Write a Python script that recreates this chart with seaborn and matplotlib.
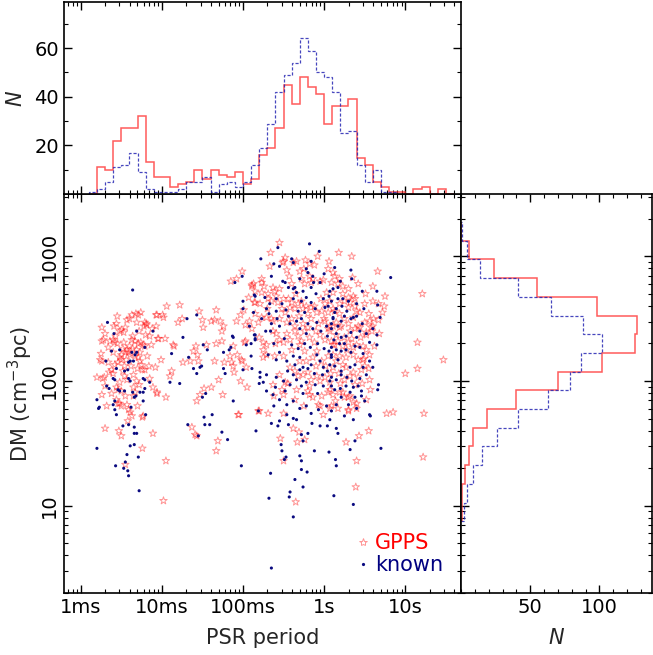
import numpy as np
import pandas as pd
import matplotlib
matplotlib.use("Agg")
import matplotlib.pyplot as plt
import seaborn as sns
from matplotlib.lines import Line2D
from matplotlib.ticker import FixedLocator, FixedFormatter, LogLocator, NullFormatter, MultipleLocator

# ---------------- data ----------------
# period histogram: bin edges in log10(P / s), counts per bin
period_edges_log = np.round(np.arange(-2.9, 1.65, 0.1), 2)
gpps_period_counts = [0, 11, 10, 22, 27, 27, 32, 13, 7, 7, 3, 4, 5, 10, 6, 10, 8, 7, 9, 4, 6,
                      16, 19, 27, 45, 37, 48, 44, 41, 29, 36, 36, 39, 15, 12, 5, 3, 1, 1, 0,
                      2, 3, 0, 2, 0]
known_period_counts = [1, 2, 5, 11, 12, 17, 9, 2, 1, 1, 1, 2, 5, 5, 7, 1, 4, 5, 3, 5, 12,
                       19, 29, 42, 49, 54, 64, 59, 50, 48, 42, 25, 26, 12, 5, 10, 1, 1, 0, 0,
                       0, 0, 0, 0, 0]

# DM histogram: bin edges in log10(DM), counts per bin (ascending DM)
dm_edges_log = np.round(np.arange(0.875, 3.30, 0.15), 3)
gpps_dm_counts = [1, 1, 3, 6, 9, 19, 40, 70, 102, 126, 127, 98, 55, 24, 6, 0]
known_dm_counts = [2, 4, 9, 15, 26, 41, 63, 79, 87, 102, 88, 65, 41, 14, 4, 1]

# scatter points: (log10 P/s, log10 DM)
gpps_points = [
    (-1.01, 2.88), (-1.15, 2.80), (-0.89, 2.77), (-0.86, 2.63), (-0.99, 2.57), (-1.03, 2.53),
    (-1.94, 2.60), (-1.78, 2.61), (-1.54, 2.56), (-1.33, 2.57), (-2.07, 2.53), (-1.99, 2.53),
    (-1.80, 2.47), (-1.75, 2.50), (-1.50, 2.49), (-1.39, 2.48), (-1.35, 2.49), (-1.28, 2.48),
    (-1.24, 2.44), (-1.49, 2.43), (-1.26, 2.40), (-2.12, 2.42), (-2.19, 2.46), (-2.22, 2.44),
    (-1.96, 2.34), (-2.04, 2.34), (-1.85, 2.28), (-1.58, 2.28), (-1.45, 2.29), (-1.33, 2.30),
    (-1.26, 2.32), (-1.61, 2.24), (-1.56, 2.21), (-1.65, 2.16), (-1.74, 2.15), (-1.55, 2.16),
    (-1.35, 2.16), (-1.23, 2.15), (-1.16, 2.20), (-1.07, 2.21), (-1.01, 2.16), (-1.12, 2.12),
    (-1.11, 2.07), (-2.01, 2.17), (-1.88, 2.08), (-1.90, 2.04), (-1.30, 2.01), (-1.48, 1.94),
    (-1.03, 2.00),
    (-2.06, 2.53), (-1.98, 2.51), (-2.26, 2.55), (-2.32, 2.54), (-2.37, 2.53), (-2.29, 2.53),
    (-2.43, 2.49), (-2.40, 2.50), (-2.21, 2.47), (-2.19, 2.45), (-2.31, 2.47), (-2.56, 2.46),
    (-2.59, 2.44), (-2.45, 2.43), (-2.50, 2.41), (-2.52, 2.40), (-2.47, 2.39), (-2.74, 2.43),
    (-2.07, 2.44), (-2.20, 2.37), (-2.15, 2.36), (-2.05, 2.34), (-2.37, 2.33), (-2.33, 2.32),
    (-2.29, 2.30), (-2.26, 2.31), (-2.23, 2.29), (-2.21, 2.28), (-2.72, 2.33), (-2.74, 2.32),
    (-2.64, 2.32), (-2.60, 2.33), (-2.58, 2.31), (-2.57, 2.36), (-2.13, 2.29), (-2.48, 2.26),
    (-2.43, 2.25), (-2.45, 2.23), (-2.50, 2.21), (-2.41, 2.23), (-2.39, 2.21), (-2.75, 2.22),
    (-2.76, 2.17), (-2.74, 2.16), (-2.54, 2.15), (-2.58, 2.13), (-2.52, 2.19), (-2.50, 2.17),
    (-2.33, 2.20), (-2.29, 2.19), (-2.27, 2.16), (-2.25, 2.13), (-2.24, 2.09), (-2.21, 2.09),
    (-1.86, 2.29), (-2.08, 2.11), (-2.62, 2.09), (-2.65, 2.07), (-2.71, 2.03), (-2.80, 2.03),
    (-2.73, 2.02), (-2.46, 2.04), (-2.43, 2.01), (-2.52, 1.99), (-2.15, 2.02), (-2.11, 1.95),
    (-2.56, 1.95), (-2.54, 1.93), (-2.50, 1.92), (-2.70, 1.96), (-2.35, 1.95), (-2.33, 1.91),
    (-2.35, 1.88), (-2.06, 1.91), (-1.95, 1.87), (-2.74, 1.89), (-2.68, 1.80), (-2.56, 1.85),
    (-2.54, 1.82), (-2.52, 1.82), (-2.50, 1.80), (-2.43, 1.81), (-2.41, 1.77), (-2.39, 1.75),
    (-2.37, 1.72), (-2.23, 1.72), (-2.40, 2.28), (-2.36, 2.26), (-2.31, 2.25), (-2.27, 2.23),
    (-2.44, 2.17), (-2.38, 2.12), (-2.30, 2.10), (-2.48, 2.08), (-2.60, 2.23), (-2.66, 2.27),
    (-2.55, 2.30), (-2.47, 2.31), (-2.36, 2.36), (-2.28, 2.40), (-2.46, 2.12), (-2.35, 2.05),
    (-2.31, 2.00), (-2.60, 2.06), (-2.66, 2.15), (-2.62, 1.90), (-2.45, 1.88), (-2.28, 1.97),
    (-2.18, 2.20), (-2.16, 2.12), (-2.42, 1.68), (-2.30, 1.80), (-2.70, 2.38), (-2.55, 2.52),
    (-2.70, 1.62), (-2.53, 1.60), (-2.50, 1.56), (-2.24, 1.71), (-2.11, 1.58), (-2.24, 1.46),
    (-2.45, 1.33), (-1.95, 1.36), (-1.98, 1.04), (-2.06, 1.90), (-1.57, 1.84), (-1.53, 1.89),
    (-1.39, 1.95), (-1.25, 1.89), (-1.63, 1.63), (-1.59, 1.57), (-1.57, 1.56), (-1.31, 1.52),
    (-1.33, 1.44), (-1.05, 1.73), (-0.95, 1.95), (-0.81, 1.76),
    (-0.55, 3.11), (-0.66, 3.03), (-0.48, 2.99), (-0.50, 2.96), (-0.51, 2.95), (-0.38, 2.95),
    (-0.34, 2.96), (-0.23, 2.97), (-0.18, 2.94), (-0.12, 2.93), (0.06, 2.96), (-0.46, 2.89),
    (-0.43, 2.84), (-0.30, 2.88), (-0.28, 2.82), (-0.18, 2.84), (-0.14, 2.82), (-0.24, 2.78),
    (-0.16, 2.79), (-0.05, 2.80), (-0.01, 2.81), (0.09, 2.79), (0.11, 2.87), (-0.89, 2.76),
    (-0.87, 2.78), (-0.77, 2.79), (-0.74, 2.76), (-0.77, 2.71), (-0.69, 2.70), (-0.63, 2.75),
    (-0.61, 2.72), (-0.85, 2.63), (-0.79, 2.62), (-0.69, 2.66), (-0.65, 2.64), (-0.59, 2.68),
    (-0.57, 2.63), (-0.50, 2.66), (-0.52, 2.58), (-0.44, 2.66), (-0.40, 2.63), (-0.42, 2.59),
    (-0.36, 2.58), (-0.32, 2.62), (-0.28, 2.64), (-0.26, 2.58), (-0.22, 2.60), (-0.16, 2.59),
    (-0.09, 2.55), (-0.03, 2.56), (0.01, 2.62), (0.07, 2.64), (0.05, 2.55), (0.11, 2.58),
    (-0.85, 2.54), (-0.77, 2.51), (-0.71, 2.51), (-0.81, 2.47), (-0.63, 2.48), (-0.55, 2.50),
    (-0.46, 2.47), (-0.36, 2.44), (-0.26, 2.46), (-0.16, 2.50), (-0.07, 2.46), (0.01, 2.48),
    (0.07, 2.44), (-0.89, 2.42),
    (0.18, 3.03), (0.34, 3.00), (0.66, 2.88), (0.13, 2.84), (0.19, 2.82), (0.23, 2.76),
    (0.17, 2.78), (0.35, 2.83), (0.60, 2.76), (0.51, 2.70), (0.75, 2.68), (1.21, 2.70),
    (0.60, 2.64), (0.67, 2.62), (0.74, 2.60), (0.11, 2.71), (0.23, 2.70), (0.30, 2.67),
    (0.36, 2.68), (0.38, 2.66), (0.25, 2.64), (0.32, 2.63), (0.19, 2.62), (0.38, 2.60),
    (0.30, 2.59), (0.40, 2.56), (0.44, 2.55), (0.13, 2.56), (0.19, 2.54), (0.25, 2.50),
    (0.15, 2.47), (0.21, 2.44), (0.30, 2.46), (0.36, 2.51), (0.50, 2.47), (0.56, 2.48),
    (0.60, 2.44), (0.42, 2.44),
    (-0.98, 2.31), (-0.80, 2.35), (-0.75, 2.31), (-0.71, 2.29), (-0.75, 2.25), (-0.75, 2.19),
    (-0.71, 2.21), (-1.02, 2.17), (-0.96, 2.11), (-0.61, 2.20), (-0.63, 2.40), (-0.59, 2.38),
    (-0.55, 2.33), (-0.50, 2.31), (-0.46, 2.38), (-0.42, 2.33), (-0.36, 2.40), (-0.32, 2.36),
    (-0.28, 2.32), (-0.24, 2.40), (-0.18, 2.35), (-0.12, 2.31), (-0.05, 2.37), (0.01, 2.33),
    (0.07, 2.40), (0.11, 2.29), (-0.42, 2.11), (-0.36, 2.08), (-0.32, 2.04), (-0.26, 2.05),
    (-0.20, 2.07), (-0.16, 2.01), (-0.09, 2.04), (-0.05, 2.00), (0.01, 2.03), (0.07, 1.99),
    (-0.22, 2.16), (-0.14, 2.19), (-0.03, 2.16), (0.05, 2.20), (-0.24, 2.24), (-0.09, 2.24),
    (-0.52, 1.93), (-0.50, 1.89), (-0.63, 1.97), (-0.20, 1.92), (-0.14, 1.87), (-0.03, 1.88),
    (0.05, 1.91), (-0.80, 1.76), (-0.69, 1.74), (-0.07, 1.81), (-0.01, 1.73), (0.09, 1.80),
    (-0.50, 1.74),
    (0.11, 2.44), (0.19, 2.43), (0.32, 2.40), (0.38, 2.42), (0.44, 2.43), (0.52, 2.39),
    (0.58, 2.43), (0.09, 2.32), (0.13, 2.29), (0.17, 2.32), (0.23, 2.28), (0.30, 2.31),
    (0.36, 2.27), (0.40, 2.29), (0.48, 2.28), (0.52, 2.25), (1.15, 2.31), (1.15, 2.10),
    (1.00, 2.06), (0.56, 2.21), (0.11, 2.21), (0.19, 2.20), (0.27, 2.19), (0.36, 2.21),
    (0.42, 2.17), (0.48, 2.17), (0.23, 2.13), (0.15, 2.16), (0.11, 2.11), (0.27, 2.11),
    (0.42, 2.03), (0.32, 2.04), (0.56, 2.01), (0.57, 1.93), (0.38, 1.97), (0.23, 1.91),
    (0.11, 1.89), (0.30, 1.87), (0.36, 1.83), (0.25, 1.87), (0.17, 1.78), (0.30, 1.77),
    (0.40, 1.78), (0.07, 1.78), (0.77, 1.74), (0.85, 1.75), (1.23, 1.74),
    (-1.08, 2.82), (1.47, 2.17), (-1.06, 1.73), (-0.54, 1.54), (-0.50, 1.36), (-0.38, 1.62),
    (-0.31, 1.59), (-0.24, 1.53), (-0.33, 1.51), (-0.35, 1.03), (0.40, 1.36), (0.27, 1.51),
    (0.43, 1.56), (0.55, 1.60), (0.39, 1.15), (1.22, 1.39), (-0.48, 1.99), (-0.34, 1.93),
    (-0.18, 1.96), (0.07, 1.93), (0.19, 1.91), (0.32, 1.88), (0.40, 1.82), (0.52, 1.85),
    (0.30, 1.76), (-0.05, 1.80), (-0.18, 1.89),
    (0.55, 2.54), (0.61, 2.50), (0.67, 2.49), (0.59, 2.40), (0.52, 2.37), (0.49, 2.18),
    (0.55, 2.10), (0.46, 2.09), (0.36, 2.07), (-0.67, 2.92), (-0.77, 2.82), (-0.85, 2.72),
    (-0.93, 2.67), (-0.70, 2.58), (-0.92, 2.48), (-0.97, 2.45), (-1.08, 2.48), (-0.97, 2.32),
    (-1.12, 2.28), (-1.14, 2.15),
    (-0.48, 2.55), (-0.40, 2.50), (-0.31, 2.52), (-0.20, 2.54), (-0.12, 2.60), (-0.04, 2.66),
    (0.03, 2.71), (-0.35, 2.70), (-0.55, 2.74), (-0.25, 2.90), (-0.40, 2.78), (0.00, 2.50),
    (0.05, 2.42), (-0.10, 2.40), (-0.20, 2.43), (-0.30, 2.29), (-0.40, 2.25), (-0.50, 2.20),
    (-0.60, 2.30), (-0.65, 2.50), (0.15, 2.37), (0.25, 2.35), (0.34, 2.34), (0.45, 2.35),
    (0.28, 2.25), (0.02, 2.12), (0.08, 2.06), (0.18, 2.06), (0.25, 2.01), (-0.10, 2.12),
    (-0.30, 2.16), (-0.55, 2.05), (-0.45, 1.98), (-0.62, 1.88), (-0.36, 1.85), (-0.25, 1.80),
    (0.14, 1.84), (0.20, 1.98), (0.47, 1.98), (0.50, 2.12), (0.62, 2.28), (0.68, 2.38),
    (0.72, 2.55), (0.50, 2.62), (0.30, 2.74), (0.42, 2.78), (0.05, 2.90), (-0.08, 3.00),
]

known_points = [
    (-2.36, 2.73), (-1.01, 2.84), (-1.10, 2.79), (-1.00, 2.64), (-0.87, 2.55), (-0.86, 2.69),
    (-1.57, 2.53), (-1.69, 2.50), (-1.74, 2.35), (-1.49, 2.29), (-1.12, 2.35), (-1.15, 2.27),
    (-1.17, 2.25), (-1.24, 2.23), (-0.96, 2.29), (-0.90, 2.30), (-0.86, 2.37), (-0.85, 2.34),
    (-1.88, 2.22), (-1.44, 2.25), (-1.67, 2.19), (-1.53, 2.11), (-1.51, 2.12), (-1.61, 2.10),
    (-1.57, 2.06), (-1.24, 2.10), (-1.22, 2.06), (-1.00, 2.09), (-0.89, 2.10), (-1.90, 1.99),
    (-1.78, 1.98), (-0.80, 1.98), (-2.67, 2.47),
    (-2.59, 2.38), (-2.31, 2.40), (-2.11, 2.40), (-2.21, 2.27), (-2.52, 2.25), (-2.62, 2.24),
    (-2.37, 2.23), (-2.31, 2.23), (-2.33, 2.21), (-2.35, 2.16), (-2.39, 2.16), (-2.41, 2.15),
    (-2.69, 2.16), (-2.56, 2.10), (-2.46, 2.08), (-2.42, 2.09), (-2.60, 2.02), (-2.58, 2.01),
    (-2.41, 2.02), (-2.39, 2.00), (-2.23, 2.02), (-2.21, 2.01), (-2.15, 1.99), (-2.68, 1.96),
    (-2.65, 1.94), (-2.54, 1.93), (-2.52, 1.92), (-2.46, 1.92), (-2.36, 1.91), (-2.27, 1.91),
    (-2.23, 1.91), (-2.21, 1.94), (-2.34, 1.87), (-2.32, 1.88), (-2.23, 1.84), (-2.80, 1.85),
    (-2.77, 1.79), (-2.58, 1.84), (-2.60, 1.81), (-2.58, 1.77), (-2.56, 1.73), (-2.38, 1.79),
    (-2.78, 1.78), (-2.80, 1.46), (-2.57, 1.32), (-2.48, 1.64), (-2.41, 1.65), (-2.34, 1.63),
    (-2.31, 1.58), (-2.34, 1.58), (-2.39, 1.48), (-2.34, 1.49), (-2.43, 1.41), (-2.45, 1.35),
    (-2.47, 1.30), (-2.42, 1.28), (-2.41, 1.24), (-2.29, 1.39), (-2.28, 1.12), (-2.20, 1.73),
    (-1.68, 1.65), (-1.55, 1.56), (-1.48, 1.71), (-1.38, 1.73), (-1.41, 1.65), (-1.47, 1.65),
    (-1.46, 1.90), (-1.50, 1.87), (-1.26, 1.59), (-1.19, 1.53), (-1.12, 1.84), (-1.02, 1.32),
    (-0.84, 1.60), (-0.81, 1.76),
    (-0.18, 3.10), (-0.06, 3.04), (-0.57, 3.07), (-0.78, 2.98), (-0.62, 2.94), (-0.55, 2.92),
    (-0.40, 2.98), (-0.38, 2.95), (-0.16, 2.96), (-0.22, 2.90), (-0.20, 2.87), (-0.51, 2.80),
    (-0.48, 2.79), (-0.38, 2.74), (-0.36, 2.75), (-0.34, 2.71), (-0.14, 2.84), (-0.13, 2.79),
    (-0.16, 2.75), (-0.05, 2.79), (0.07, 2.72), (0.06, 2.68), (0.09, 2.64), (-0.85, 2.68),
    (-0.73, 2.67), (-0.59, 2.66), (-0.67, 2.62), (-0.59, 2.56), (-0.71, 2.58), (-0.38, 2.66),
    (-0.28, 2.64), (-0.22, 2.67), (-0.32, 2.56), (-0.24, 2.55), (-0.16, 2.63), (-0.11, 2.58),
    (-0.01, 2.66), (0.01, 2.59), (0.05, 2.60), (-0.77, 2.50), (-0.65, 2.46), (-0.55, 2.44),
    (-0.42, 2.46), (-0.28, 2.50), (-0.20, 2.46), (-0.09, 2.47), (0.03, 2.44), (0.11, 2.50),
    (-1.00, 2.58),
    (0.33, 2.89), (0.34, 2.82), (0.82, 2.83), (0.47, 2.72), (0.65, 2.72), (0.17, 2.75),
    (0.20, 2.80), (0.11, 2.74), (0.23, 2.66), (0.30, 2.64), (0.17, 2.66), (0.66, 2.61),
    (0.69, 2.51), (0.15, 2.58), (0.13, 2.55), (0.11, 2.51), (0.25, 2.52), (0.33, 2.50),
    (0.36, 2.51), (0.21, 2.48), (0.09, 2.46), (0.17, 2.44),
    (-0.85, 2.37), (-0.85, 2.33), (-0.69, 2.21), (-0.59, 2.17), (-0.55, 2.23), (-0.46, 2.16),
    (-0.38, 2.20), (-0.36, 2.13), (-0.30, 2.19), (-0.26, 2.11), (-0.16, 2.13), (-0.09, 2.21),
    (-0.05, 2.16), (-0.01, 2.11), (0.07, 2.13), (0.09, 2.21), (-0.79, 2.03), (-0.71, 2.05),
    (-0.75, 1.99), (-0.59, 2.03), (-0.50, 2.00), (-0.42, 1.97), (-0.34, 2.01), (-0.28, 1.96),
    (-0.22, 1.99), (-0.11, 1.97), (-0.01, 1.96), (0.07, 2.00), (-0.71, 1.92), (-0.63, 1.89),
    (-0.55, 1.85), (-0.46, 1.81), (-0.38, 1.84), (-0.30, 1.78), (-0.22, 1.80), (-0.16, 1.74),
    (-0.07, 1.77), (0.03, 1.80), (0.09, 1.76), (-0.65, 1.66), (-0.55, 1.68), (-0.46, 1.73),
    (-0.38, 1.70), (-0.79, 2.07),
    (0.09, 2.42), (0.15, 2.38), (0.21, 2.35), (0.27, 2.36), (0.33, 2.39), (0.40, 2.35),
    (0.44, 2.40), (0.52, 2.38), (0.65, 2.29), (0.65, 2.37), (0.09, 2.27), (0.15, 2.25),
    (0.21, 2.24), (0.27, 2.25), (0.33, 2.23), (0.38, 2.28), (0.44, 2.27), (0.09, 2.19),
    (0.17, 2.17), (0.13, 2.12), (0.21, 2.08), (0.32, 2.11), (0.38, 2.13), (0.48, 2.11),
    (0.60, 2.11), (0.67, 1.97), (0.66, 1.93), (0.09, 2.03), (0.15, 2.01), (0.21, 2.05),
    (0.27, 1.96), (0.36, 1.95), (0.42, 1.96), (0.09, 1.96), (0.13, 1.93), (0.32, 1.91),
    (0.38, 1.87), (0.46, 1.88), (0.50, 1.84), (0.21, 1.87), (0.15, 1.81), (0.30, 1.81),
    (0.56, 1.73), (0.57, 1.72), (0.36, 1.69), (0.40, 1.78),
    (-1.13, 2.36), (-0.66, 1.26), (-0.68, 1.06), (-0.65, 0.50), (-0.38, 0.91), (-0.43, 1.07),
    (-0.42, 1.11), (-0.36, 1.21), (-0.26, 1.15), (-0.28, 1.29), (-0.21, 1.27), (-0.30, 1.40),
    (-0.28, 1.36), (-0.47, 1.39), (-0.49, 1.37), (-0.52, 1.44), (-0.53, 1.49), (-0.57, 1.64),
    (-0.44, 1.65), (-0.34, 1.69), (-0.28, 1.57), (-0.26, 1.52), (-0.20, 1.58), (-0.12, 1.44),
    (0.06, 1.43), (-0.05, 1.64), (0.04, 1.64), (0.07, 1.69), (0.15, 1.62), (0.17, 1.58),
    (0.14, 1.37), (0.15, 1.32), (0.12, 1.08), (0.32, 1.45), (0.38, 1.52), (0.36, 1.01),
    (0.70, 1.46),
    (-0.52, 2.62), (-0.47, 2.57), (-0.44, 2.52), (-0.34, 2.48), (-0.30, 2.42), (-0.22, 2.38),
    (-0.14, 2.42), (-0.04, 2.40), (0.04, 2.36), (0.12, 2.33), (0.19, 2.30), (0.25, 2.30),
    (-0.49, 2.34), (-0.40, 2.29), (-0.32, 2.26), (-0.24, 2.30), (-0.17, 2.27), (-0.08, 2.30),
    (0.00, 2.26), (0.06, 2.24), (-0.62, 2.30), (-0.66, 2.40), (-0.58, 2.50), (-0.68, 2.54),
    (-0.45, 2.08), (-0.38, 2.05), (-0.30, 2.09), (-0.20, 2.10), (-0.12, 2.06), (-0.02, 2.05),
    (0.04, 2.08), (0.28, 2.03), (0.34, 2.00), (0.44, 2.02), (0.52, 2.05), (0.56, 2.16),
    (0.48, 2.22), (0.56, 2.31), (0.60, 2.42), (0.47, 2.46), (0.40, 2.52), (0.28, 2.56),
    (0.22, 2.60), (0.40, 2.62), (0.49, 2.58), (-0.10, 2.70), (-0.26, 2.72), (-0.44, 2.75),
    (-0.30, 2.82), (0.00, 2.86), (0.13, 2.91), (-0.65, 2.84), (-0.72, 2.40), (-0.90, 2.20),
    (-0.92, 2.44), (-0.60, 1.95), (-0.48, 1.92), (-0.26, 1.90), (-0.08, 1.90), (0.20, 1.94),
    (0.46, 1.92), (0.25, 1.72), (-0.15, 1.66), (-0.62, 1.80),
]

period_ticks = [1e-3, 1e-2, 1e-1, 1.0, 10.0]
period_ticklabels = ["1ms", "10ms", "100ms", "1s", "10s"]
dm_ticks = [10, 100, 1000]
dm_ticklabels = ["10", "100", "1000"]
legend_labels = ["GPPS", "known"]

# ---------------- style ----------------
sns.set_theme(style="ticks")
plt.rcParams["font.family"] = ["DejaVu Sans"]
plt.rcParams.update({
    "xtick.direction": "in", "ytick.direction": "in",
    "xtick.top": True, "ytick.right": True,
    "xtick.major.size": 6, "ytick.major.size": 6,
    "xtick.minor.size": 3, "ytick.minor.size": 3,
    "xtick.major.width": 1.0, "ytick.major.width": 1.0,
    "xtick.minor.width": 0.8, "ytick.minor.width": 0.8,
    "xtick.color": "black", "ytick.color": "black",
    "axes.edgecolor": "black", "axes.linewidth": 1.2,
    "xtick.labelsize": 14, "ytick.labelsize": 14,
    "axes.labelsize": 15,
})

RED_EDGE = (1.0, 0.0, 0.0, 0.42)
RED_LINE = (1.0, 0.2, 0.2, 0.8)
BLUE_DOT = "#0a0a80"
BLUE_LINE = (0.15, 0.15, 0.7, 0.85)

gdf = pd.DataFrame(gpps_points, columns=["logP", "logDM"])
gdf["P"] = 10 ** gdf["logP"]
gdf["DM"] = 10 ** gdf["logDM"]
kdf = pd.DataFrame(known_points, columns=["logP", "logDM"])
kdf["P"] = 10 ** kdf["logP"]
kdf["DM"] = 10 ** kdf["logDM"]

fig = plt.figure(figsize=(6.53, 6.55), dpi=100)
ax = fig.add_axes([0.098, 0.0947, 0.608, 0.6091])
axt = fig.add_axes([0.098, 0.7038, 0.608, 0.2932], sharex=ax)
axr = fig.add_axes([0.706, 0.0947, 0.2925, 0.6091], sharey=ax)

# ---------------- main scatter ----------------
sns.scatterplot(data=gdf, x="P", y="DM", marker="*", s=32, color="red",
                facecolor="none", edgecolor=RED_EDGE, linewidth=0.7, ax=ax, legend=False, zorder=2)
sns.scatterplot(data=kdf, x="P", y="DM", marker="o", s=5, color=BLUE_DOT,
                edgecolor="none", linewidth=0, ax=ax, legend=False, zorder=3)
ax.set_xscale("log")
ax.set_yscale("log")
ax.set_xlim(10 ** -3.206, 10 ** 1.687)
ax.set_ylim(10 ** 0.30, 10 ** 3.50)
ax.xaxis.set_major_locator(FixedLocator(period_ticks))
ax.xaxis.set_major_formatter(FixedFormatter(period_ticklabels))
ax.xaxis.set_minor_locator(LogLocator(base=10, subs=np.arange(2, 10)))
ax.xaxis.set_minor_formatter(NullFormatter())
ax.yaxis.set_major_locator(FixedLocator(dm_ticks))
ax.yaxis.set_major_formatter(FixedFormatter(dm_ticklabels))
ax.yaxis.set_minor_locator(LogLocator(base=10, subs=np.arange(2, 10)))
ax.yaxis.set_minor_formatter(NullFormatter())
plt.setp(ax.get_yticklabels(), rotation=90, va="center")
ax.set_xlabel("PSR period", labelpad=8)
ax.set_ylabel("DM (cm$^{-3}$pc)", labelpad=4)
ax.tick_params(which="both", top=True, right=True)

handles = [
    Line2D([], [], marker="*", ls="", mfc="none", mec=RED_EDGE, mew=0.7, ms=6),
    Line2D([], [], marker="o", ls="", mfc=BLUE_DOT, mec="none", ms=2.3),
]
leg = ax.legend(handles, legend_labels, loc="lower right", frameon=False, fontsize=15,
                handlelength=0.5, handletextpad=0.35, labelspacing=0.1,
                borderaxespad=0.45, labelcolor=["red", "navy"])

# ---------------- top histogram ----------------
axt.stairs(gpps_period_counts, 10 ** period_edges_log, color=RED_LINE, lw=1.1)
axt.stairs(known_period_counts, 10 ** period_edges_log, color=BLUE_LINE, lw=0.9,
           linestyle=(0, (2.5, 1.5)))
axt.set_ylim(0, 79)
axt.yaxis.set_major_locator(FixedLocator([20, 40, 60]))
axt.yaxis.set_minor_locator(FixedLocator([10, 30, 50, 70]))
axt.set_ylabel("$N$", labelpad=6)
axt.tick_params(which="both", top=True, right=True, labelbottom=False)

# ---------------- right histogram ----------------
axr.stairs(gpps_dm_counts, 10 ** dm_edges_log, orientation="horizontal",
           color=RED_LINE, lw=1.1)
axr.stairs(known_dm_counts, 10 ** dm_edges_log, orientation="horizontal",
           color=BLUE_LINE, lw=0.9, linestyle=(0, (2.5, 1.5)))
axr.set_xlim(0, 138)
axr.xaxis.set_major_locator(FixedLocator([50, 100]))
axr.xaxis.set_minor_locator(MultipleLocator(10))
axr.set_xlabel("$N$", labelpad=8)
axr.tick_params(which="both", top=True, right=True, labelleft=False)

fig.savefig("out.png", dpi=100)
